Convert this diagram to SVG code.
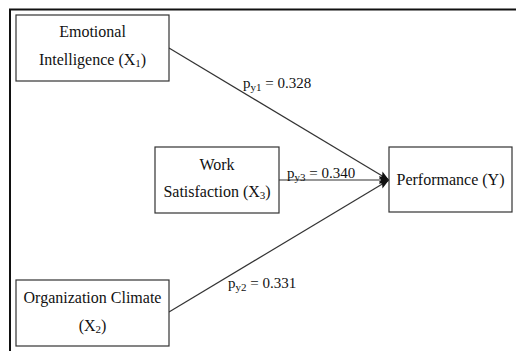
<svg xmlns="http://www.w3.org/2000/svg" width="516" height="351" viewBox="0 0 516 351">
<style>
.box{fill:#fff;stroke:#333;stroke-width:1.2}
.t{font-family:"Liberation Serif","Times New Roman",serif;font-size:16px;fill:#111;text-anchor:middle}
.l{font-family:"Liberation Serif","Times New Roman",serif;font-size:15px;fill:#111}
.c{stroke:#333;stroke-width:1.2;fill:none}
</style>
<defs>
<marker id="ah" viewBox="0 0 10 8" refX="10" refY="4" markerWidth="10" markerHeight="8" markerUnits="userSpaceOnUse" orient="auto">
<path d="M0,0 L10,4 L0,8 L2,4 Z" fill="#111"/>
</marker>
</defs>
<rect width="516" height="351" fill="#fff"/>
<path d="M10,351 V9.5 H516" fill="none" stroke="#111" stroke-width="2"/>
<g id="connectors">
<line class="c" x1="169" y1="48" x2="389" y2="180" marker-end="url(#ah)"/>
<line class="c" x1="279" y1="180" x2="389" y2="180" marker-end="url(#ah)"/>
<line class="c" x1="169" y1="312" x2="389" y2="180" marker-end="url(#ah)"/>
<text class="l" x="243" y="88">p<tspan font-size="11" dy="3">y1</tspan><tspan dy="-3"> = 0.328</tspan></text>
<text class="l" x="287" y="178">p<tspan font-size="11" dy="3">y3</tspan><tspan dy="-3"> = 0.340</tspan></text>
<text class="l" x="228" y="288">p<tspan font-size="11" dy="3">y2</tspan><tspan dy="-3"> = 0.331</tspan></text>
</g>
<g id="emotional">
<rect class="box" x="16" y="15" width="153" height="66"/>
<text class="t" x="92.5" y="37">Emotional</text>
<text class="t" x="92.5" y="65">Intelligence (X<tspan font-size="11" dy="2">1</tspan><tspan dy="-2">)</tspan></text>
</g>
<g id="work">
<rect class="box" x="155" y="147" width="124" height="66"/>
<text class="t" x="217" y="170">Work</text>
<text class="t" x="217" y="197">Satisfaction (X<tspan font-size="11" dy="2">3</tspan><tspan dy="-2">)</tspan></text>
</g>
<g id="performance">
<rect class="box" x="389" y="147" width="123" height="65"/>
<text class="t" x="450.5" y="185">Performance (Y)</text>
</g>
<g id="organization">
<rect class="box" x="16" y="280" width="153" height="66"/>
<text class="t" x="92.5" y="303">Organization Climate</text>
<text class="t" x="92.5" y="331">(X<tspan font-size="11" dy="2">2</tspan><tspan dy="-2">)</tspan></text>
</g>
</svg>
